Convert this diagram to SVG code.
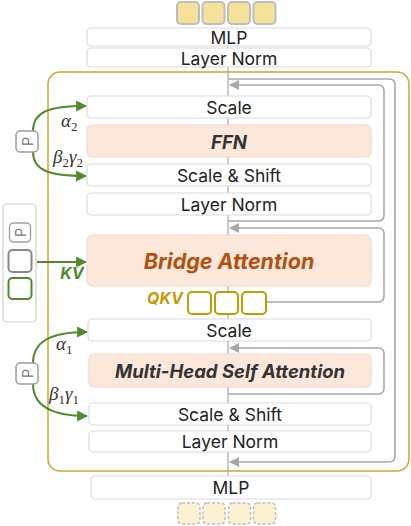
<svg xmlns="http://www.w3.org/2000/svg" width="411" height="526" viewBox="0 0 411 526">
<style>
.box{fill:#fff;stroke:#d9d9d9;stroke-width:1.2}
.pbox{fill:#fce8db;stroke:#efdacb;stroke-width:1.2}
.lbl{font-family:Inter,"Liberation Sans",sans-serif;font-size:17.5px;font-weight:400;fill:#222;text-anchor:middle;dominant-baseline:central}
.bi{font-family:Inter,"Liberation Sans",sans-serif;font-weight:bold;font-style:italic;text-anchor:middle;dominant-baseline:central}
.skip{fill:none;stroke:#a9a9a9;stroke-width:1.6}
.grn{fill:none;stroke:#4f8a2b;stroke-width:2}
.math{font-family:"Liberation Serif",serif;font-style:italic;font-size:19px;fill:#333}
.sub{font-family:"Liberation Serif",serif;font-style:normal;font-size:13px;fill:#333}
.ptxt{font-family:Inter,"Liberation Sans",sans-serif;font-size:14px;fill:#777;text-anchor:middle;dominant-baseline:central}
.qkv{fill:#fff;stroke:#c99a00;stroke-width:2}
</style>
<defs>
<marker id="ag" viewBox="0 0 10 10" refX="9" refY="5" markerWidth="10" markerHeight="10" markerUnits="userSpaceOnUse" orient="auto"><path d="M0,0 L10,5 L0,10 z" fill="#a9a9a9"/></marker>
<marker id="agr" viewBox="0 0 10 10" refX="9" refY="5" markerWidth="11" markerHeight="11" markerUnits="userSpaceOnUse" orient="auto"><path d="M0,0 L10,5 L0,10 z" fill="#4f8a2b"/></marker>
</defs>

<g id="tokens-top">
<rect x="177" y="2" width="22" height="22" rx="4" fill="#f5e197" stroke="#bdbdbd" stroke-width="2"/>
<rect x="202.5" y="2" width="22" height="22" rx="4" fill="#f5e197" stroke="#bdbdbd" stroke-width="2"/>
<rect x="228" y="2" width="22" height="22" rx="4" fill="#f5e197" stroke="#bdbdbd" stroke-width="2"/>
<rect x="253.5" y="2" width="22" height="22" rx="4" fill="#f5e197" stroke="#bdbdbd" stroke-width="2"/>
</g>

<g id="block-frame"><rect x="48" y="72" width="361" height="399" rx="12" fill="none" stroke="#d4a52a" stroke-width="1.5"/></g>

<g id="connectors">
<line x1="228" y1="46" x2="228" y2="476" stroke="#a9a9a9" stroke-width="1.2"/>
<path class="skip" d="M228,79 H389 Q395,79 395,85 V456 Q395,462 389,462 H230" marker-end="url(#ag)"/>
<path class="skip" d="M228,221 H378 Q384,221 384,215 V91 Q384,85 378,85 H230" marker-end="url(#ag)"/>
<path class="skip" d="M266,302 H378 Q384,302 384,296 V234 Q384,228 378,228 H230" marker-end="url(#ag)"/>
<path class="skip" d="M228,394 H378 Q384,394 384,388 V354 Q384,348 378,348 H230" marker-end="url(#ag)"/>
<path class="grn" d="M33,131 C33,112 48,106 86,106" marker-end="url(#agr)"/>
<path class="grn" d="M33,152 C33,170 48,176 86,176" marker-end="url(#agr)"/>
<path class="grn" d="M33,363 C33,343 48,332 87,332" marker-end="url(#agr)"/>
<path class="grn" d="M33,384 C33,404 48,416 87,416" marker-end="url(#agr)"/>
<path class="grn" d="M37,262 H86" marker-end="url(#agr)"/>
</g>

<g id="mlp-top"><rect class="box" x="87" y="28" width="284" height="18" rx="4"/><text class="lbl" x="229" y="37.5">MLP</text></g>
<g id="ln-top"><rect class="box" x="87" y="48" width="284" height="19" rx="4"/><text class="lbl" x="229" y="58">Layer Norm</text></g>

<g id="scale2"><rect class="box" x="87" y="96" width="284" height="22" rx="4"/><text class="lbl" x="229" y="107">Scale</text></g>
<g id="ffn"><rect class="pbox" x="87" y="125" width="284" height="32" rx="5"/><text class="bi" x="229" y="141.5" font-size="18.5" fill="#333">FFN</text></g>
<g id="ss2"><rect class="box" x="87" y="164" width="284" height="22" rx="4"/><text class="lbl" x="229" y="175">Scale &amp; Shift</text></g>
<g id="ln2"><rect class="box" x="87" y="193" width="284" height="22" rx="4"/><text class="lbl" x="229" y="204">Layer Norm</text></g>

<g id="bridge"><rect class="pbox" x="87" y="235" width="284" height="51" rx="6"/><text class="bi" x="229" y="261" font-size="21.5" fill="#b4500f">Bridge Attention</text></g>

<g id="qkv">
<rect class="qkv" x="188" y="292" width="23" height="22" rx="4"/>
<rect class="qkv" x="215" y="292" width="23" height="22" rx="4"/>
<rect class="qkv" x="242" y="292" width="24" height="22" rx="4"/>
<text class="bi" x="165" y="298" font-size="16" fill="#c99a00">QKV</text>
</g>

<g id="scale1"><rect class="box" x="88" y="319" width="283" height="22" rx="4"/><text class="lbl" x="229" y="330">Scale</text></g>
<g id="mhsa"><rect class="pbox" x="89" y="354" width="282" height="33" rx="5"/><text class="bi" x="230" y="370.5" font-size="18.5" fill="#333">Multi-Head Self Attention</text></g>
<g id="ss1"><rect class="box" x="89" y="403" width="282" height="22" rx="4"/><text class="lbl" x="230" y="414">Scale &amp; Shift</text></g>
<g id="ln1"><rect class="box" x="89" y="431" width="282" height="21" rx="4"/><text class="lbl" x="230" y="441.5">Layer Norm</text></g>

<g id="mlp-bottom"><rect class="box" x="91" y="476" width="280" height="23" rx="4"/><text class="lbl" x="231" y="487.5">MLP</text></g>

<g id="tokens-bottom">
<rect x="178" y="503" width="22" height="21" rx="4" fill="#fdf1d2" stroke="#bdbdbd" stroke-width="1.5" stroke-dasharray="3,2"/>
<rect x="203" y="503" width="22" height="21" rx="4" fill="#fdf1d2" stroke="#bdbdbd" stroke-width="1.5" stroke-dasharray="3,2"/>
<rect x="228.5" y="503" width="22" height="21" rx="4" fill="#fdf1d2" stroke="#bdbdbd" stroke-width="1.5" stroke-dasharray="3,2"/>
<rect x="253.5" y="503" width="22" height="21" rx="4" fill="#fdf1d2" stroke="#bdbdbd" stroke-width="1.5" stroke-dasharray="3,2"/>
</g>

<g id="p-top"><rect x="16" y="131" width="22" height="21" rx="4" fill="#fff" stroke="#9c9c9c" stroke-width="1.5"/><text class="ptxt" transform="translate(27,141.5) rotate(-90)">P</text></g>
<g id="p-bottom"><rect x="16" y="363" width="22" height="21" rx="4" fill="#fff" stroke="#9c9c9c" stroke-width="1.5"/><text class="ptxt" transform="translate(27,373.5) rotate(-90)">P</text></g>

<g id="kv-panel">
<rect x="3" y="204" width="33" height="118" rx="4" fill="#fff" stroke="#cfcfcf" stroke-width="1.2"/>
<rect x="9.5" y="223" width="21" height="19" rx="4" fill="#fff" stroke="#a0a0a0" stroke-width="1.4"/>
<text class="ptxt" transform="translate(20,232.5) rotate(-90)">P</text>
<rect x="8.5" y="250" width="23" height="22" rx="4" fill="#fff" stroke="#888" stroke-width="2"/>
<rect x="8.5" y="278" width="23" height="21" rx="4" fill="#fff" stroke="#4f8a2b" stroke-width="2"/>
</g>
<text class="bi" x="72" y="273" font-size="16" fill="#4f8a2b">KV</text>

<g id="math-labels">
<text class="math" x="61" y="127">α<tspan class="sub" dy="4">2</tspan></text>
<text class="math" x="53" y="163">β<tspan class="sub" dy="4">2</tspan><tspan dy="-4">γ</tspan><tspan class="sub" dy="4">2</tspan></text>
<text class="math" x="56" y="350">α<tspan class="sub" dy="4">1</tspan></text>
<text class="math" x="49" y="400">β<tspan class="sub" dy="4">1</tspan><tspan dy="-4">γ</tspan><tspan class="sub" dy="4">1</tspan></text>
</g>
</svg>
